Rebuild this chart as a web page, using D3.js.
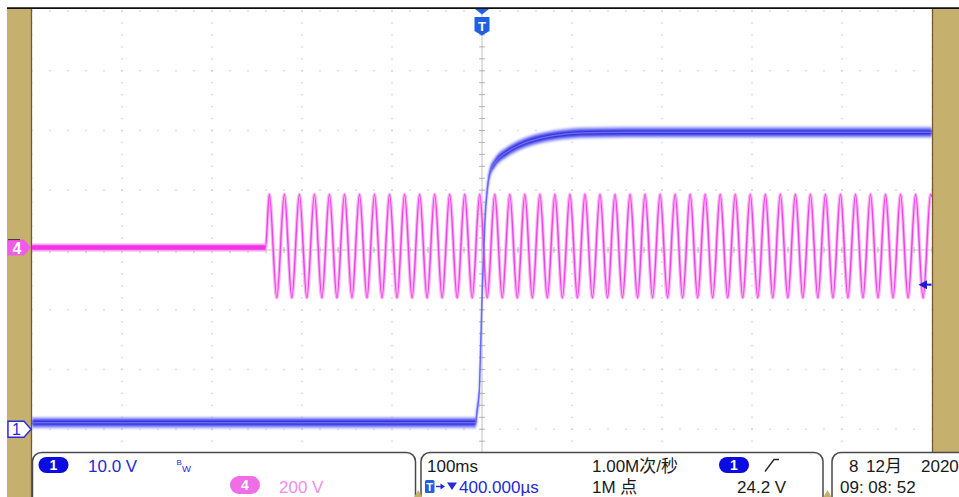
<!DOCTYPE html>
<html>
<head>
<meta charset="utf-8">
<script src="https://cdn.jsdelivr.net/npm/d3@7"></script>
<style>
  html, body { margin: 0; padding: 0; background: #fff; }
  svg { display: block; font-family: "Liberation Sans", "Noto Sans CJK SC", sans-serif; }
</style>
</head>
<body>
<svg id="scope" width="959" height="497"></svg>
<script>
// ---- Acquisition settings -------------------------------------------------
// Horizontal: 100 ms/div, 10 divisions, trigger point at screen centre
const timeDomainMs = [-500, 500];
// CH1: 10.0 V/div, ground marker 3 div below centre
const ch1DomainV = [-10, 70];
// CH4: 200 V/div, ground marker 0.04 div above centre
const ch4DomainV = [-808, 792];
const triggerLevelV = 24.2;

// ---- CH1: DC output step (time in ms, level in V) -------------------------
const ch1Ms = [-500, -7, -5.5, -3, -1, 0.5, 3.3, 6.7, 8.9, 14.4, 27.8, 42.2, 64.4, 86.7, 108.9, 160, 500];
const ch1V  = [1.1, 1.1, 3, 6.5, 16.6, 24.2, 35.0, 41.2, 43.0, 44.6, 46.4, 47.6, 48.7, 49.3, 49.6, 49.7, 49.7];

// ---- CH4: 60 Hz AC input, switched on at ch4OnsetMs -----------------------
const ch4OnsetMs = -240.5;
const ch4PeakMs = [-236.3, -219.6, -202.9, -186.2, -169.5, -152.8, -136.1, -119.4, -102.7, -86.0,
                   -69.3, -52.6, -35.9, -19.2, -2.5, 14.2, 30.9, 47.6, 64.3, 81.0,
                   97.7, 114.4, 131.1, 147.8, 164.5, 181.2, 197.9, 214.6, 231.3, 248.0,
                   264.7, 281.4, 298.1, 314.8, 331.5, 348.2, 364.9, 381.6, 398.3, 415.0,
                   431.7, 448.4, 465.1, 481.8, 498.5];
const ch4TroughMs = [-228.0, -211.3, -194.6, -177.9, -161.2, -144.5, -127.8, -111.1, -94.4, -77.7,
                     -61.0, -44.3, -27.6, -10.9, 5.8, 22.5, 39.2, 55.9, 72.6, 89.3,
                     106.0, 122.7, 139.4, 156.1, 172.8, 189.5, 206.2, 222.9, 239.6, 256.3,
                     273.0, 289.7, 306.4, 323.1, 339.8, 356.5, 373.2, 389.9, 406.6, 423.3,
                     440.0, 456.7, 473.4, 490.1];
const ch4PeakV = 178;
const ch4TroughV = -168;
const ch4EndV = 170;

// ---- Readouts --------------------------------------------------------------
const ch1Readout = ["1", "10.0 V"];
const ch4Readout = ["4", "200 V"];
const timebaseReadout = ["100ms", "400.000µs"];
const acquisitionReadout = ["1.00M次/秒", "1M 点"];
const triggerReadout = ["1", "24.2 V"];
const dateReadout = ["8", "12月", "2020", "09: 08: 52"];

// ---- Layout ----------------------------------------------------------------
const plot = { left: 32, right: 932, top: 11, bottom: 489, visibleBottom: 452 };
const gold = "#c5b16d", goldEdge = "#77592a";
const ch1Blue = "#1c1cd6", triggerBlue = "#1f5fe0", ch4Pink = "#f043e6";

const svg = d3.select("#scope");

const x = d3.scaleLinear().domain(timeDomainMs).range([plot.left, plot.right]);
const y1 = d3.scaleLinear().domain(ch1DomainV).range([plot.bottom, plot.top]);
const y4 = d3.scaleLinear().domain(ch4DomainV).range([plot.bottom, plot.top]);
const yDiv = d3.scaleLinear().domain([-4, 4]).range([plot.bottom, plot.top]);

const defs = svg.append("defs");
defs.append("clipPath").attr("id", "screen")
  .append("rect")
  .attr("x", plot.left).attr("y", 9)
  .attr("width", plot.right - plot.left)
  .attr("height", plot.visibleBottom - 9);
// soft edges of the persistence band
defs.append("filter").attr("id", "glow").attr("x", "-5%").attr("y", "-5%").attr("width", "110%").attr("height", "110%")
  .append("feGaussianBlur").attr("stdDeviation", 0.9);

// ---- Bezel -------------------------------------------------------------------
svg.append("rect").attr("x", 7).attr("y", 9).attr("width", 24.5).attr("height", 488).attr("fill", gold);
svg.append("line").attr("x1", 31.5).attr("x2", 31.5).attr("y1", 9).attr("y2", 497)
  .attr("stroke", goldEdge).attr("stroke-width", 1.3);
svg.append("rect").attr("x", 932.5).attr("y", 9).attr("width", 27).attr("height", plot.visibleBottom - 9).attr("fill", gold);
svg.append("line").attr("x1", 932.5).attr("x2", 932.5).attr("y1", 9).attr("y2", plot.visibleBottom)
  .attr("stroke", goldEdge).attr("stroke-width", 1.3);
svg.append("line").attr("x1", 7).attr("x2", 959).attr("y1", 8.2).attr("y2", 8.2)
  .attr("stroke", "#111").attr("stroke-width", 1.8);

// ---- Graticule -----------------------------------------------------------------
const grid = svg.append("g").attr("clip-path", "url(#screen)");
const majorT = d3.range(-500, 501, 100);
const minorT = d3.range(-500, 501, 20);
const majorD = d3.range(-4, 4.001, 1);
const minorD = d3.range(-4, 4.001, 0.2);

const dots = [];
majorT.forEach(t => minorD.forEach(d => dots.push([x(t), yDiv(d)])));
majorD.forEach(d => minorT.forEach(t => dots.push([x(t), yDiv(d)])));
grid.selectAll("rect.dot").data(dots).join("rect")
  .attr("class", "dot")
  .attr("x", d => d[0] - 0.7).attr("y", d => d[1] - 0.7)
  .attr("width", 1.4).attr("height", 1.4)
  .attr("fill", "#cdcdcd");

// centre crosshair with minor ticks
grid.append("line").attr("x1", x(0)).attr("x2", x(0)).attr("y1", plot.top).attr("y2", plot.bottom)
  .attr("stroke", "#c2c2c2").attr("stroke-width", 1);
grid.append("line").attr("x1", plot.left).attr("x2", plot.right).attr("y1", yDiv(0)).attr("y2", yDiv(0))
  .attr("stroke", "#bcc4c4").attr("stroke-width", 1);
grid.selectAll("line.vtick").data(minorD).join("line")
  .attr("class", "vtick")
  .attr("x1", x(0) - 3).attr("x2", x(0) + 3)
  .attr("y1", d => yDiv(d)).attr("y2", d => yDiv(d))
  .attr("stroke", "#b4b4b4").attr("stroke-width", 1);
grid.selectAll("line.htick").data(minorT).join("line")
  .attr("class", "htick")
  .attr("x1", d => x(d)).attr("x2", d => x(d))
  .attr("y1", yDiv(0) - 3).attr("y2", yDiv(0) + 3)
  .attr("stroke", "#b4b4b4").attr("stroke-width", 1);

// ---- Waveforms ---------------------------------------------------------------
const traces = svg.append("g").attr("clip-path", "url(#screen)");

// CH4 series: flat until switch-on, then alternating crests and troughs
const ch4Points = [{ t: timeDomainMs[0], v: 0 }, { t: ch4OnsetMs, v: 0 }]
  .concat(ch4PeakMs.map(t => ({ t, v: ch4PeakV })))
  .concat(ch4TroughMs.map(t => ({ t, v: ch4TroughV })))
  .concat([{ t: timeDomainMs[1], v: ch4EndV }])
  .sort((a, b) => a.t - b.t);

const ch4Line = d3.line().x(d => x(d.t)).y(d => y4(d.v)).curve(d3.curveMonotoneX);
traces.append("path").datum(ch4Points).attr("d", ch4Line)
  .attr("fill", "none").attr("stroke", "#f8b4f3").attr("stroke-width", 3.4);
traces.append("path").datum(ch4Points).attr("d", ch4Line)
  .attr("fill", "none").attr("stroke", ch4Pink).attr("stroke-width", 1.4);

const ch4Flat = ch4Points.filter(d => d.t <= ch4OnsetMs);
traces.append("path").datum(ch4Flat).attr("d", ch4Line)
  .attr("fill", "none").attr("stroke", "#f7a2ef").attr("stroke-width", 8);
traces.append("path").datum(ch4Flat).attr("d", ch4Line)
  .attr("fill", "none").attr("stroke", "#f232e4").attr("stroke-width", 4.5);

// CH1 series drawn as a noise band around the mean level
const ch1Points = ch1Ms.map((t, i) => ({ t, v: ch1V[i] }));
const band = half => d3.area()
  .x(d => x(d.t))
  .y0(d => y1(d.v) + half)
  .y1(d => y1(d.v) - half)
  .curve(d3.curveMonotoneX);
const ch1g = traces.append("g").attr("filter", "url(#glow)");
ch1g.append("path").datum(ch1Points).attr("d", band(5.8)).attr("fill", "#a8a8ff").attr("opacity", 0.85);
ch1g.append("path").datum(ch1Points).attr("d", band(3.9)).attr("fill", "#5a5af0");
ch1g.append("path").datum(ch1Points).attr("d", band(2)).attr("fill", "#2020d8");
traces.append("path").datum(ch1Points)
  .attr("d", d3.line().x(d => x(d.t)).y(d => y1(d.v)).curve(d3.curveMonotoneX))
  .attr("fill", "none").attr("stroke", "#6a6af2").attr("stroke-width", 1.5);

// ---- Markers -----------------------------------------------------------------
// trigger position
const tx = x(0);
svg.append("path").attr("d", `M${tx - 7},9 L${tx + 7},9 L${tx},14.5 Z`).attr("fill", triggerBlue);
svg.append("path").attr("d", `M${tx - 7.5},17 H${tx + 7.5} V31 L${tx},35.5 L${tx - 7.5},31 Z`).attr("fill", triggerBlue);
svg.append("text").attr("x", tx).attr("y", 30.5).attr("text-anchor", "middle")
  .attr("fill", "#fff").attr("font-weight", "bold").attr("font-size", 13).text("T");

// trigger level arrow on the right edge
const ty = y1(triggerLevelV);
svg.append("line").attr("x1", 925).attr("x2", 931.5).attr("y1", ty).attr("y2", ty)
  .attr("stroke", ch1Blue).attr("stroke-width", 2);
svg.append("path").attr("d", `M918.5,${ty} L927,${ty - 4.5} L927,${ty + 4.5} Z`).attr("fill", ch1Blue);

// channel ground markers
const g4 = y4(0);
svg.append("path").attr("d", `M7.5,${g4 - 8} H24 L31,${g4} L24,${g4 + 8} H7.5 Z`).attr("fill", "#f25ae8");
svg.append("line").attr("x1", 8).attr("x2", 20).attr("y1", g4 - 8).attr("y2", g4 - 8)
  .attr("stroke", "#333").attr("stroke-width", 1);
svg.append("text").attr("x", 17).attr("y", g4 + 6).attr("text-anchor", "middle")
  .attr("fill", "#fff").attr("font-weight", "bold").attr("font-size", 16).text(ch4Readout[0]);

const g1 = y1(0);
svg.append("path").attr("d", `M8,${g1 - 8} H24 L31,${g1} L24,${g1 + 8} H8 Z`)
  .attr("fill", "#fff").attr("stroke", "#2a2ae0").attr("stroke-width", 1.4);
svg.append("text").attr("x", 16.5).attr("y", g1 + 6).attr("text-anchor", "middle")
  .attr("fill", "#2a2ae0").attr("font-size", 16).text(ch1Readout[0]);

// ---- Readout panel ---------------------------------------------------------
const panel = svg.append("g");
const boxTop = 452.5;
[[32.5, 415.5], [421, 823], [832, 1000]].forEach(([a, b]) => {
  panel.append("rect").attr("x", a).attr("y", boxTop).attr("width", b - a).attr("height", 80)
    .attr("rx", 9).attr("fill", "#fff").attr("stroke", "#4a4a4a").attr("stroke-width", 1.5);
});
[418.2, 827.5].forEach(cx => {
  panel.append("path").attr("d", `M${cx - 4},497 L${cx},490 L${cx + 4},497 Z`).attr("fill", gold);
});

const line1 = 471.5, line2 = 493;
const fs = 17;
function pill(cx, cy, w, h, fill, label) {
  panel.append("rect").attr("x", cx - w / 2).attr("y", cy - h / 2).attr("width", w).attr("height", h)
    .attr("rx", h / 2).attr("fill", fill);
  panel.append("text").attr("x", cx).attr("y", cy + 5).attr("text-anchor", "middle")
    .attr("fill", "#fff").attr("font-weight", "bold").attr("font-size", 14).text(label);
}
function label(xp, yp, txt, color, size) {
  panel.append("text").attr("x", xp).attr("y", yp).attr("fill", color)
    .attr("font-size", size || fs).text(txt);
}

// CH1 / CH4 scale
pill(53.5, 465, 30, 16, "#0b0be2", ch1Readout[0]);
label(88, line1, ch1Readout[1], "#2828d8");
label(176.5, 465, "B", "#2828d8", 8);
label(182, 471.5, "W", "#2828d8", 9.5);
pill(245, 485, 30, 18, "#f06de6", ch4Readout[0]);
label(279, line2, ch4Readout[1], "#f38cee");

// timebase
label(427, line1, timebaseReadout[0], "#1a1a1a");
panel.append("rect").attr("x", 425).attr("y", 480).attr("width", 9.5).attr("height", 13).attr("rx", 1.5).attr("fill", triggerBlue);
panel.append("text").attr("x", 429.7).attr("y", 491).attr("text-anchor", "middle")
  .attr("fill", "#fff").attr("font-weight", "bold").attr("font-size", 11).text("T");
panel.append("line").attr("x1", 436).attr("x2", 442).attr("y1", 486.5).attr("y2", 486.5)
  .attr("stroke", "#2828d8").attr("stroke-width", 1.4);
panel.append("path").attr("d", "M445,486.5 L440.5,483.5 L440.5,489.5 Z").attr("fill", "#2828d8");
panel.append("path").attr("d", "M447,482.5 L457,482.5 L452,490 Z").attr("fill", "#2828d8");
label(459, line2, timebaseReadout[1], "#2828d8");

// sample rate / record length
label(592, line1, acquisitionReadout[0], "#1a1a1a");
label(592, line2, acquisitionReadout[1], "#1a1a1a");

// trigger
pill(734, 465, 30, 16, "#0b0be2", triggerReadout[0]);
panel.append("path").attr("d", "M765,471.5 L774,459.5 H779").attr("fill", "none")
  .attr("stroke", "#222").attr("stroke-width", 1.3);
label(737, line2, triggerReadout[1], "#1a1a1a");

// date / time
label(849, line1, dateReadout[0], "#1a1a1a");
label(866, line1, dateReadout[1], "#1a1a1a");
label(921, line1, dateReadout[2], "#1a1a1a");
label(840, line2, dateReadout[3], "#1a1a1a");
</script>
</body>
</html>
